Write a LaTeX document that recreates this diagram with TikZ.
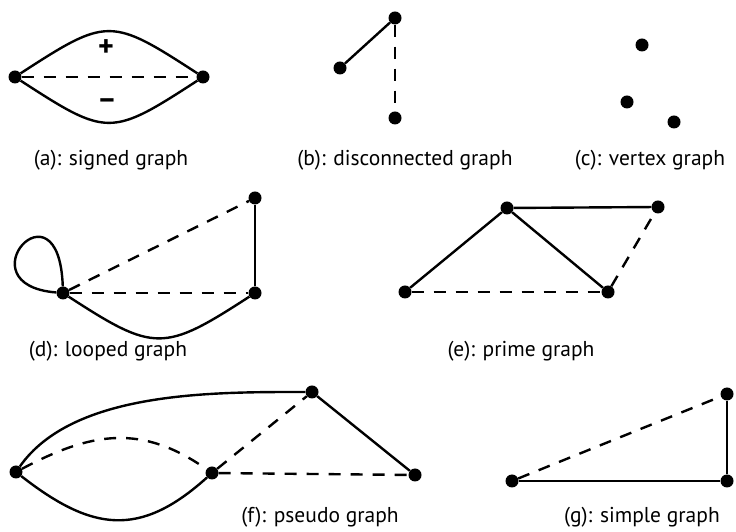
\documentclass[tikz,border=0pt]{standalone}
\usepackage{fontspec}
\setmainfont{PT Sans}
\usepackage{tikz}

\tikzset{
  vtx/.style={circle, fill=black, inner sep=0pt, minimum width=13pt, minimum height=12pt},
  solidedge/.style={line width=2.4pt},
  dashedge/.style={line width=2.4pt, dash pattern=on 12pt off 10pt},
  caption/.style={font=\fontsize{21.5}{24}\selectfont},
  sign/.style={font=\fontsize{30}{30}\selectfont\bfseries}
}

\begin{document}
\begin{tikzpicture}[x=1pt, y=1pt]
    \useasboundingbox (0,0) rectangle (736,532);

    % (a) 符号图
    \node[vtx] (a1) at (15,455) {};
    \node[vtx] (a2) at (203,455) {};
    \draw[solidedge] (a1) to[out=33, in=147, looseness=1.5] (a2);
    \draw[solidedge] (a1) to[out=-33, in=-147, looseness=1.5] (a2);
    \draw[dashedge] (a1) -- (a2);
    \node[sign] (plus) at (106,484) {+};
    \node[sign] (minus) at (107,427) {\char"2212};
    \node[caption] (la) at (111,372) {(a): signed graph};

    % (b) 非连通图
    \node[vtx] (b1) at (340,464) {};
    \node[vtx] (b2) at (395,514) {};
    \node[vtx] (b3) at (395,414) {};
    \draw[solidedge] (b1) -- (b2);
    \draw[dashedge] (b2) -- (b3);
    \node[caption] (lb) at (405,372) {(b): disconnected graph};

    % (c) 顶点图
    \node[vtx] (c1) at (642,487) {};
    \node[vtx] (c2) at (627,430) {};
    \node[vtx] (c3) at (674,410) {};
    \node[caption] (lc) at (650,372) {(c): vertex graph};

    % (d) 带环图
    \node[vtx] (dA) at (63,239) {};
    \node[vtx] (dB) at (255,239) {};
    \node[vtx] (dC) at (255,334) {};
    \draw[solidedge] (dA) .. controls +(-4,118) and +(-102,8) .. (dA);
    \draw[dashedge] (dA) -- (dC);
    \draw[dashedge] (dA) -- (dB);
    \draw[solidedge] (dB) -- (dC);
    \draw[solidedge] (dA) to[out=-33, in=-147, looseness=1.45] (dB);
    \node[caption] (ld) at (108,181) {(d): looped graph};

    % (e) 素图
    \node[vtx] (eT) at (507,324) {};
    \node[vtx] (eR) at (658,325) {};
    \node[vtx] (eL) at (405,240) {};
    \node[vtx] (eB) at (608,240) {};
    \draw[solidedge] (eT) -- (eR);
    \draw[solidedge] (eT) -- (eL);
    \draw[solidedge] (eT) -- (eB);
    \draw[dashedge] (eL) -- (eB);
    \draw[dashedge] (eB) -- (eR);
    \node[caption] (le) at (521,181) {(e): prime graph};

    % (f) 伪图
    \node[vtx] (fL) at (16,60) {};
    \node[vtx] (fM) at (212,59) {};
    \node[vtx] (fT) at (312,140) {};
    \node[vtx] (fR) at (415,57) {};
    \draw[solidedge] (fL) to[out=55, in=180, looseness=0.8] (fT);
    \draw[dashedge] (fL) to[out=28, in=145, looseness=1.1] (fM);
    \draw[solidedge] (fL) to[out=-38, in=-138, looseness=1.24] (fM);
    \draw[dashedge] (fM) -- (fT);
    \draw[dashedge] (fM) -- (fR);
    \draw[solidedge] (fT) -- (fR);
    \node[caption] (lf) at (320,15) {(f): pseudo graph};

    % (g) 简单图
    \node[vtx] (gL) at (512,51) {};
    \node[vtx] (gB) at (727,51) {};
    \node[vtx] (gT) at (727,138) {};
    \draw[solidedge] (gL) -- (gB);
    \draw[solidedge] (gB) -- (gT);
    \draw[dashedge] (gL) -- (gT);
    \node[caption] (lg) at (642,15) {(g): simple graph};
  \end{tikzpicture}
\end{document}
